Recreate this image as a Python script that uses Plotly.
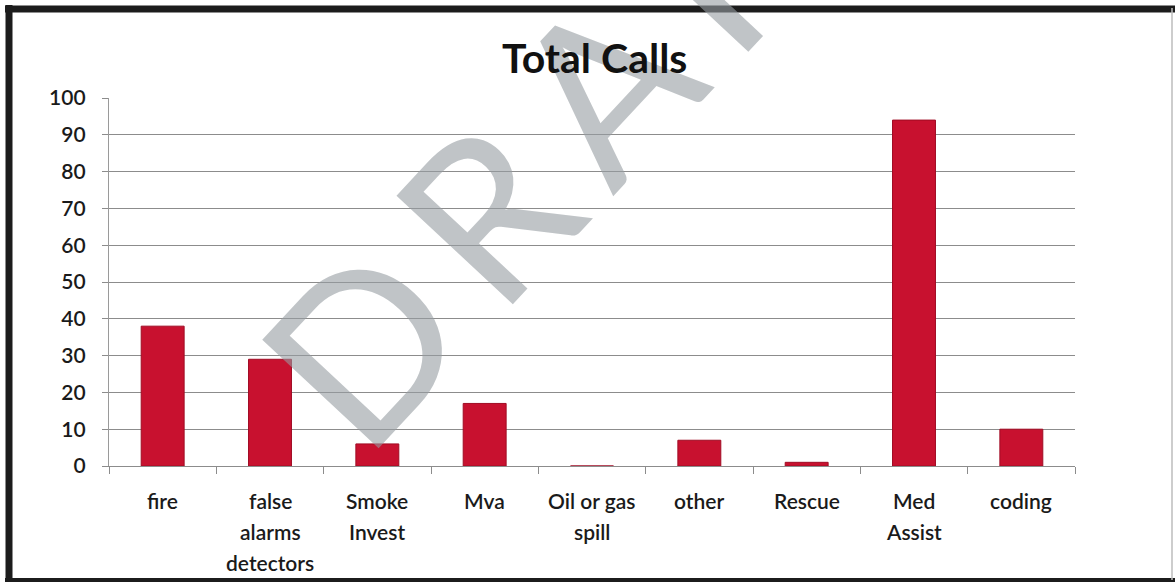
import plotly.graph_objects as go

categories = ["fire", "false<br>alarms<br>detectors", "Smoke<br>Invest", "Mva",
              "Oil or gas<br>spill", "other", "Rescue", "Med<br>Assist", "coding"]
values = [38, 29, 6, 17, 0, 7, 1, 94, 10]
y_ticks = [0, 10, 20, 30, 40, 50, 60, 70, 80, 90, 100]

W, H = 1175, 584
ML, MR, MT, MB = 109, 100, 98, 118
PW, PH = W - ML - MR, H - MT - MB


def px(x):
    return (x - ML) / PW


def py(y):
    return (H - MB - y) / PH


FONT = "Lato, 'Open Sans', sans-serif"
TXT = "#1a1a1a"

fig = go.Figure(go.Bar(
    x=categories, y=values,
    marker=dict(color="#C8112F", line=dict(color="#A00C24", width=1)),
    hoverinfo="y",
))

shapes = [
    dict(type="line", xref="paper", yref="paper", x0=px(5), x1=px(1175), y0=py(9), y1=py(9),
         line=dict(color="#1c1c1c", width=7)),
    dict(type="line", xref="paper", yref="paper", x0=px(9), x1=px(9), y0=py(5), y1=py(582),
         line=dict(color="#1c1c1c", width=7)),
    dict(type="line", xref="paper", yref="paper", x0=px(5), x1=px(1175), y0=py(580), y1=py(580),
         line=dict(color="#1c1c1c", width=4)),
    dict(type="line", xref="paper", yref="paper", x0=px(1172), x1=px(1172), y0=py(8), y1=py(580),
         line=dict(color="#bdbdbd", width=1.5)),
]

annotations = [
    dict(text='<span style="letter-spacing:28px">DRAFT</span>', xref="paper", yref="paper",
         x=px(593), y=py(92),
         xanchor="center", yanchor="middle", showarrow=False, textangle=-47,
         font=dict(family=FONT, size=222, color="rgba(150,156,162,0.6)")),
    dict(text="<b>Total Calls</b>", xref="paper", yref="paper", x=px(594), y=py(58),
         xanchor="center", yanchor="middle", showarrow=False,
         font=dict(family=FONT, size=41, color="#111111")),
]

# category labels, one text per line (reference uses a wide line spacing)
for cat in categories:
    for i, part in enumerate(cat.split("<br>")):
        annotations.append(dict(
            text=part, x=cat, xref="x", y=0, yref="y",
            xanchor="center", yanchor="middle", yshift=-34 - 31 * i,
            showarrow=False,
            font=dict(family=FONT, size=21, color=TXT, weight=600),
        ))

fig.update_layout(
    width=W, height=H,
    margin=dict(l=ML, r=MR, t=MT, b=MB, autoexpand=False),
    paper_bgcolor="white", plot_bgcolor="white",
    bargap=0.6,
    showlegend=False,
    font=dict(family=FONT, size=20, color=TXT),
    shapes=shapes,
    annotations=annotations,
)

fig.update_yaxes(
    range=[0, 100], tickvals=y_ticks, ticktext=[str(v) for v in y_ticks],
    showgrid=True, gridcolor="#8c8c8c", gridwidth=1.3,
    showline=True, linecolor="#9a9a9a", linewidth=1.3,
    ticks="outside", ticklen=6, tickcolor="#8c8c8c", tickwidth=1.3,
    tickfont=dict(size=21, color=TXT, weight=600), ticklabelstandoff=12,
    zeroline=False,
)
fig.update_xaxes(
    showline=True, linecolor="#8c8c8c", linewidth=1.3,
    ticks="outside", tickson="boundaries", ticklen=7, tickcolor="#8c8c8c", tickwidth=1.3,
    showticklabels=False,
    showgrid=False,
)

fig.write_html("out.html", config={"displayModeBar": False},
               post_script="document.body.style.margin='0';")
